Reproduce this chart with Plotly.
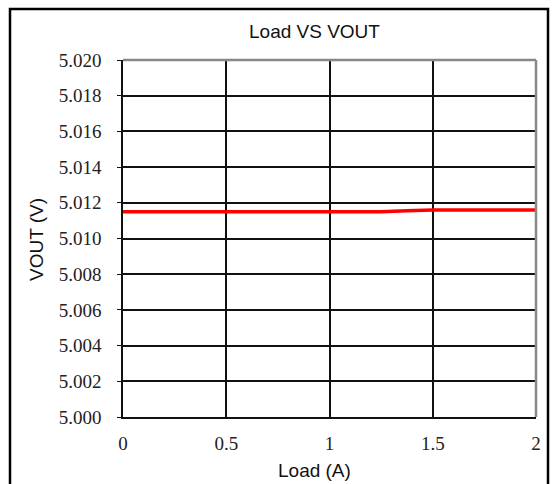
import plotly.graph_objects as go

load_a = [0.0, 0.25, 0.5, 0.75, 1.0, 1.25, 1.5, 1.75, 2.0]
vout_v = [5.0115, 5.0115, 5.0115, 5.0115, 5.0115, 5.0115, 5.0116, 5.0116, 5.0116]

x_ticks = [0, 0.5, 1, 1.5, 2]
x_labels = ["0", "0.5", "1", "1.5", "2"]
y_ticks = [5.000, 5.002, 5.004, 5.006, 5.008, 5.010, 5.012, 5.014, 5.016, 5.018, 5.020]
y_labels = ["%.3f" % v for v in y_ticks]

SERIF = dict(family="Liberation Serif, Times New Roman, serif", size=19, color="#222")
SANS = dict(family="Liberation Sans, Arial, sans-serif", size=19, color="#111")

# plot area in pixels: x 123..536, y 60..417
L, R, T, B = 123, 536, 60, 417
PW, PH = R - L, B - T

fig = go.Figure()
fig.add_trace(go.Scatter(
    x=load_a, y=vout_v, mode="lines",
    line=dict(color="#ff0000", width=3.5, shape="spline", smoothing=0.3),
    cliponaxis=False, showlegend=False,
))

fig.update_layout(
    width=553, height=484,
    margin=dict(l=L, r=553 - R, t=T, b=484 - B),
    paper_bgcolor="white", plot_bgcolor="white",
    xaxis=dict(range=[0, 2], tickvals=x_ticks, ticktext=x_labels,
               showgrid=True, gridcolor="#111", gridwidth=1.5,
               showline=True, linecolor="#111", linewidth=1.5,
               ticks="outside", ticklen=0, zeroline=False,
               tickfont=SERIF, ticklabelstandoff=8),
    yaxis=dict(range=[5.000, 5.020], tickvals=y_ticks, ticktext=y_labels,
               showgrid=True, gridcolor="#111", gridwidth=1.5,
               showline=True, linecolor="#111", linewidth=1.5,
               ticks="outside", ticklen=4, tickcolor="#111", zeroline=False,
               tickfont=SERIF, ticklabelstandoff=12),
)

# gray top/right border of plot area
fig.add_shape(type="line", xref="paper", yref="paper", x0=0, x1=1, y0=1, y1=1,
              line=dict(color="#888", width=2.5))
fig.add_shape(type="line", xref="paper", yref="paper", x0=1, x1=1, y0=0, y1=1,
              line=dict(color="#888", width=2.5))

# outer chart frame (bottom edge runs off the page)
fig.add_shape(type="rect", xref="paper", yref="paper",
              x0=(10 - L) / PW, x1=(548 - L) / PW,
              y0=(B - 500) / PH, y1=(B - 9) / PH,
              line=dict(color="#000", width=2.5), layer="below")

fig.add_annotation(text="Load VS VOUT", xref="paper", yref="paper",
                   x=(314 - L) / PW, y=(B - 31) / PH, showarrow=False,
                   font=SANS, xanchor="center", yanchor="middle")
fig.add_annotation(text="Load (A)", xref="paper", yref="paper",
                   x=(314 - L) / PW, y=(B - 471) / PH, showarrow=False,
                   font=SANS, xanchor="center", yanchor="middle")
fig.add_annotation(text="VOUT (V)", xref="paper", yref="paper",
                   x=(36 - L) / PW, y=(B - 240) / PH, showarrow=False,
                   font=SANS, textangle=-90, xanchor="center", yanchor="middle")

fig.write_html("out.html", config={"displayModeBar": False},
               post_script="document.body.style.margin='0';")
